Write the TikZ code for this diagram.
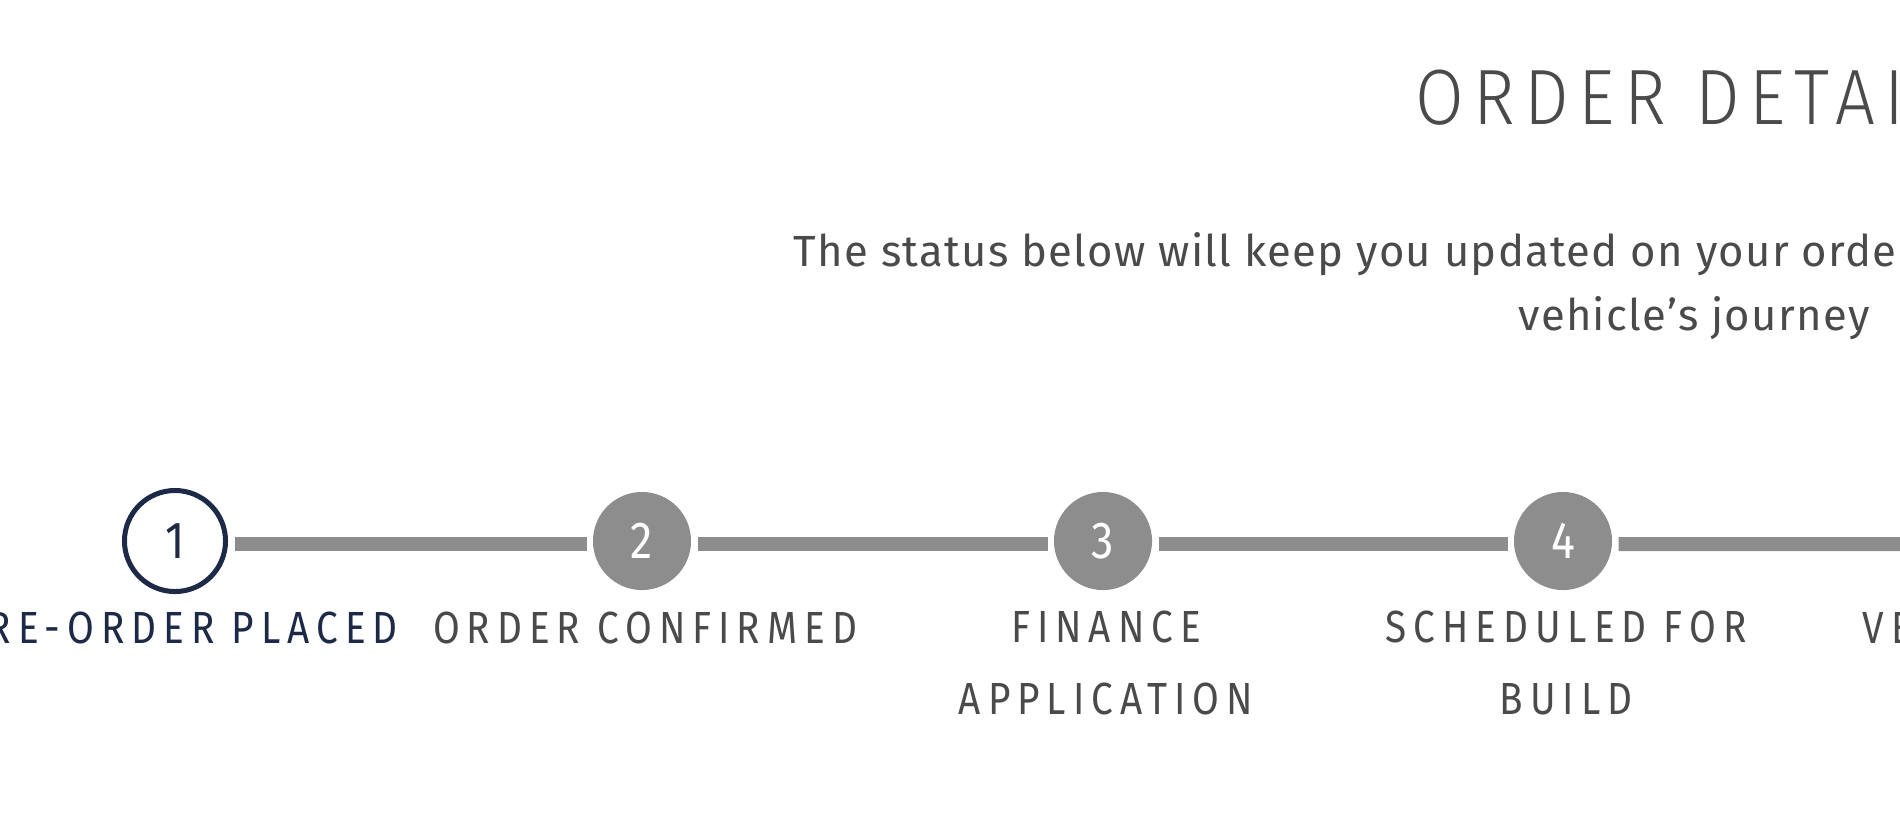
\documentclass[tikz,border=0pt]{standalone}
\usepackage{fontspec}
\setmainfont{Fira Sans}
\newfontfamily\labfont[FakeStretch=0.86,LetterSpace=15.5]{Fira Sans}
\newfontfamily\numfont[FakeStretch=0.86]{Fira Sans}
\newfontfamily\titlefont[UprightFont={* Light},LetterSpace=12,FakeStretch=0.9]{Fira Sans}
\newfontfamily\subfont[LetterSpace=3]{Fira Sans}
\definecolor{navy}{HTML}{1C2A48}
\definecolor{stepgray}{HTML}{8D8D8D}
\definecolor{txtgray}{HTML}{4A4A4A}
\tikzset{
  stepdone/.style={circle,draw=navy,line width=0.05cm,fill=white,minimum size=1.01cm,inner sep=0pt,outer sep=0.025cm,text=navy,font=\numfont\fontsize{14.8}{16}\selectfont},
  stepnext/.style={circle,fill=stepgray,minimum size=0.98cm,inner sep=0pt,outer sep=0pt,text=white,font=\numfont\fontsize{14.8}{16}\selectfont},
  bar/.style={draw=stepgray,line width=0.14cm,shorten <=0.065cm,shorten >=0.06cm},
  steplabel/.style={anchor=base,align=center,inner sep=0pt,text=txtgray,font=\labfont\fontsize{12.8}{20.2}\selectfont},
}
\begin{document}
\begin{tikzpicture}[x=0.01cm,y=-0.01cm]
\useasboundingbox (0,0) rectangle (1900,838);
\clip (0,0) rectangle (1900,838);
\fill[white] (0,0) rectangle (1900,838);
% heading
\node[anchor=base west,inner sep=0pt,text=txtgray,font=\titlefont\fontsize{22.3}{26}\selectfont] (title) at (1415,124) {ORDER DETAILS};
\node[anchor=base west,inner sep=0pt,text=txtgray,font=\subfont\fontsize{12.4}{16}\selectfont] (sub1) at (793,266) {The status below will keep you updated on your order};
\node[anchor=base,inner sep=0pt,text=txtgray,font=\subfont\fontsize{12.4}{16}\selectfont] (sub2) at (1694,330) {vehicle’s journey};
% steps
\node[stepdone] (s1) at (175,541) {1};
\node[stepnext] (s2) at (642,541) {2};
\node[stepnext] (s3) at (1103,541) {3};
\node[stepnext] (s4) at (1563,541) {4};
\coordinate (e5) at (1910,544);
\draw[bar] ([yshift=-0.03cm]s1.east) -- ([yshift=-0.03cm]s2.west);
\draw[bar] ([yshift=-0.03cm]s2.east) -- ([yshift=-0.03cm]s3.west);
\draw[bar] ([yshift=-0.03cm]s3.east) -- ([yshift=-0.03cm]s4.west);
\draw[bar,shorten >=0pt] ([yshift=-0.03cm]s4.east) -- (e5);
% labels
\node[steplabel,text=navy] (l1) at (178,643) {PRE-ORDER PLACED};
\node[steplabel] (l2) at (645,643) {ORDER CONFIRMED};
\node[steplabel] (l3) at (1106,714) {FINANCE\\APPLICATION};
\node[steplabel] (l4) at (1566,714) {SCHEDULED FOR\\BUILD};
\node[steplabel,anchor=base west] (l5) at (1862,643) {VE};
\end{tikzpicture}
\end{document}
